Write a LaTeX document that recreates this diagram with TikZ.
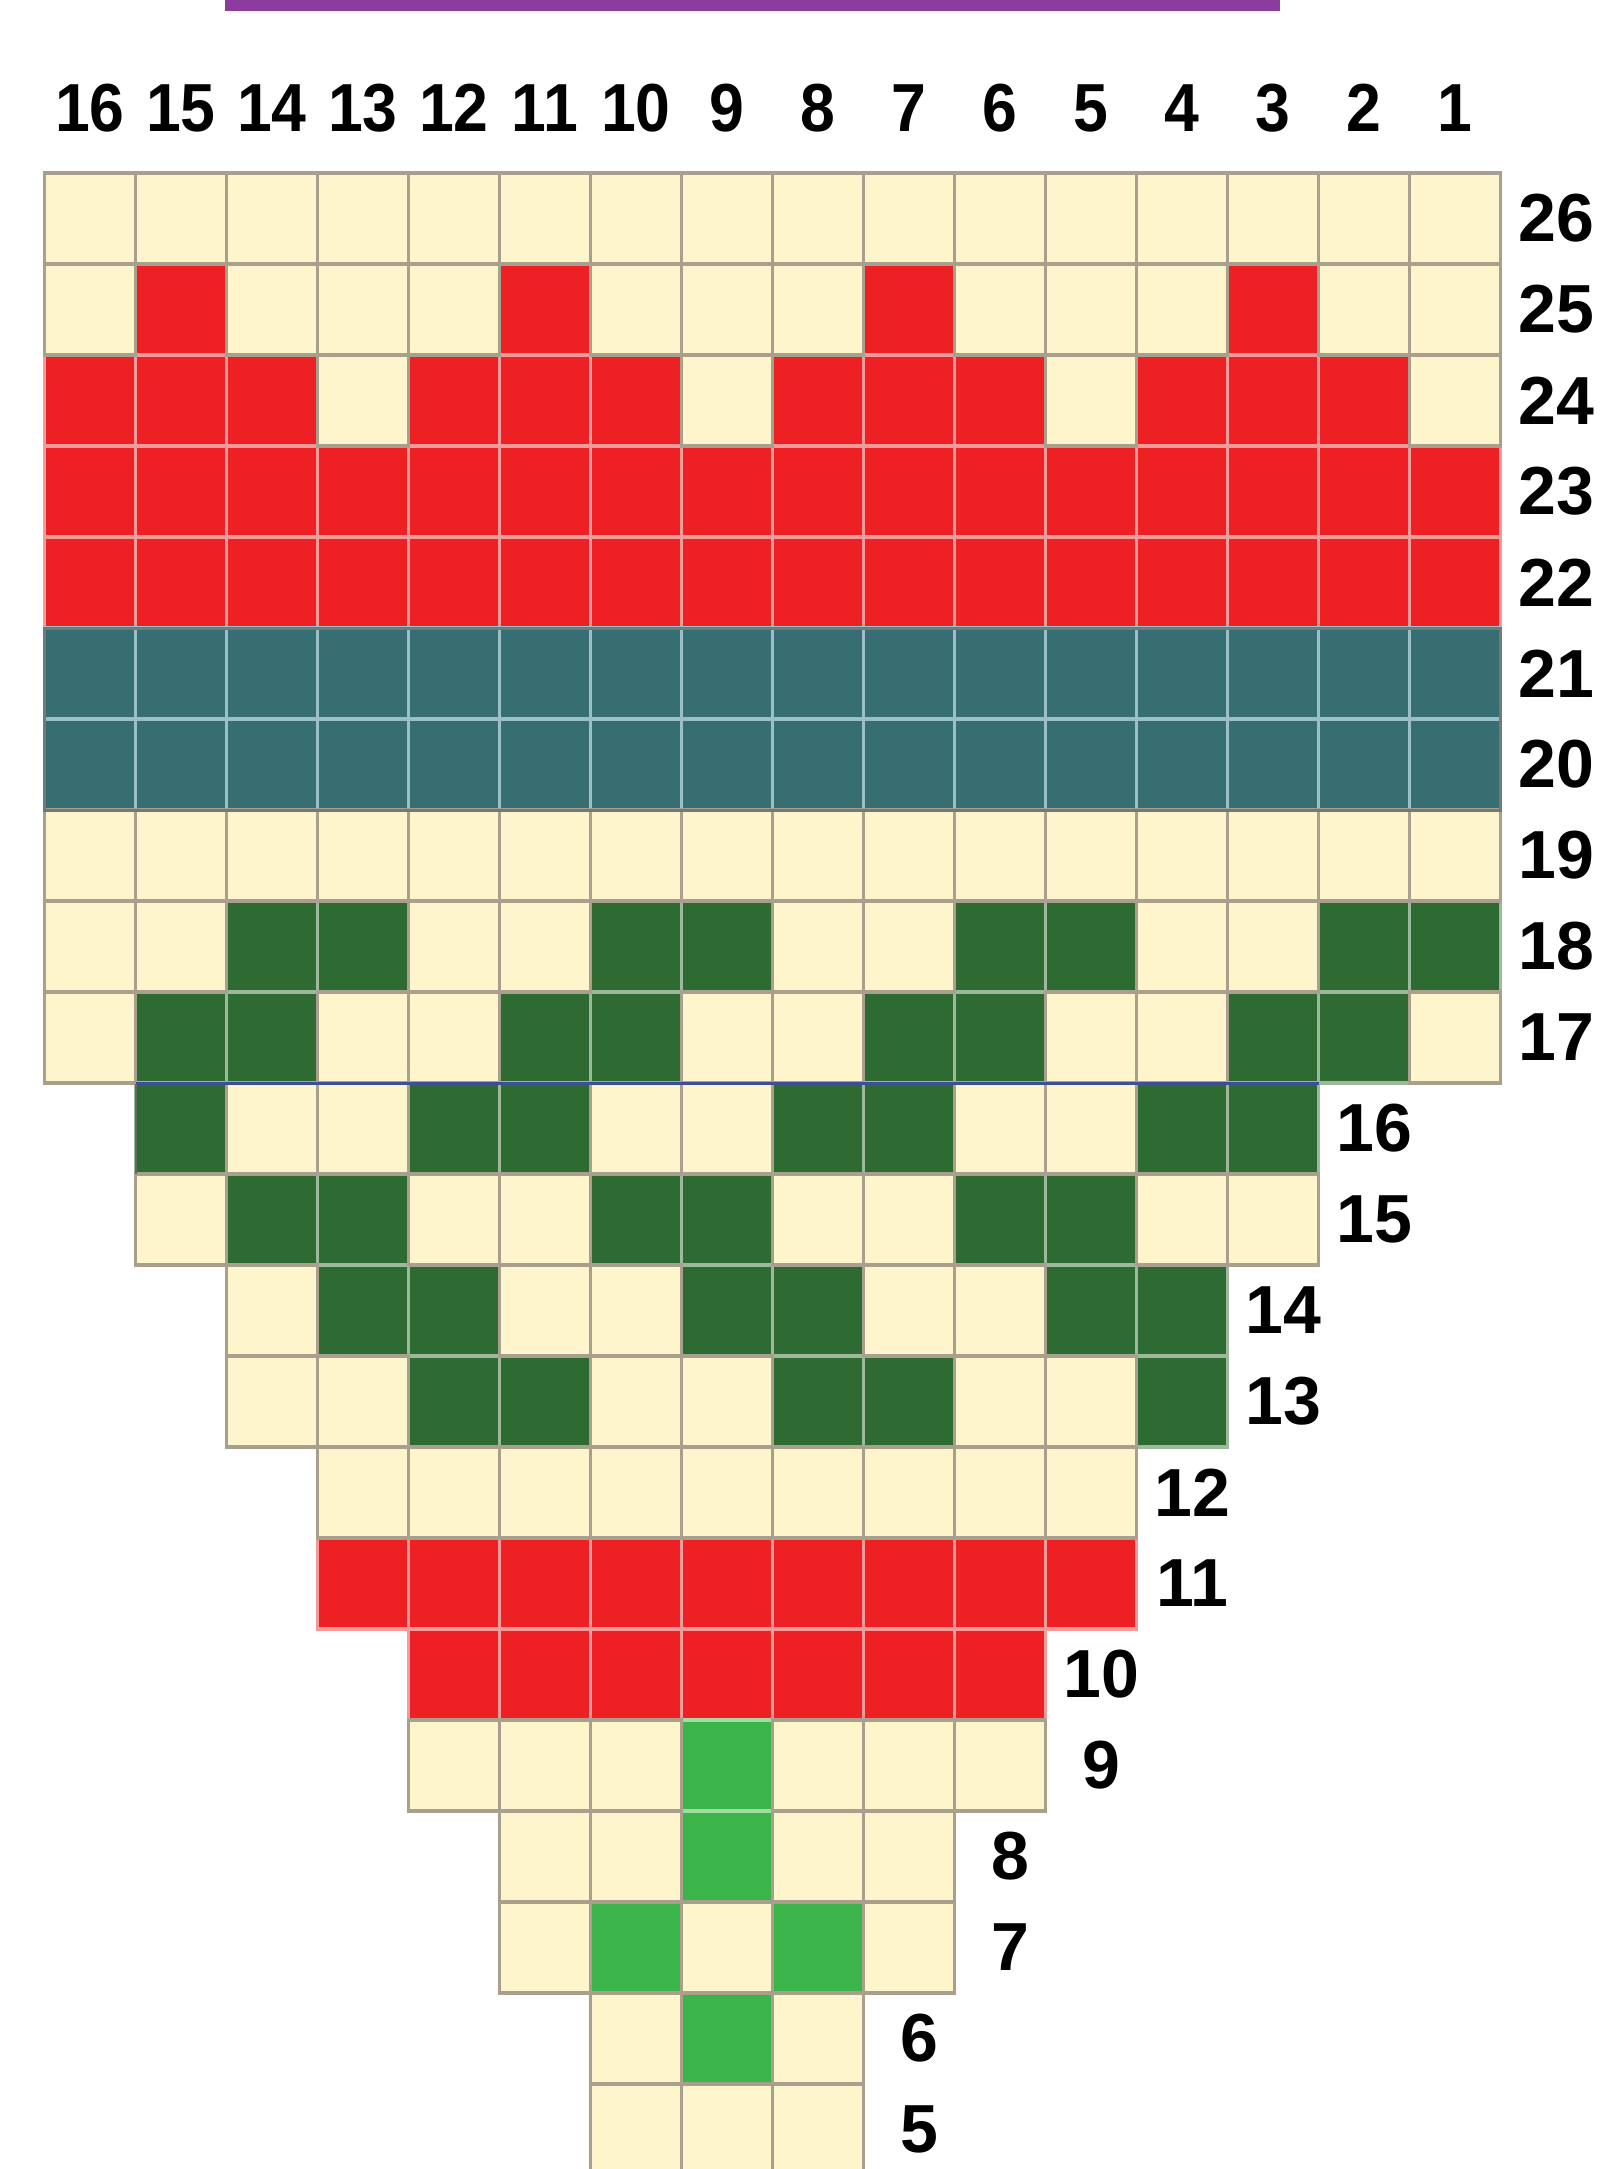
\documentclass[tikz,border=0pt]{standalone}
\usepackage{fontspec}
\setmainfont{Liberation Sans}
\definecolor{colc}{HTML}{FFF5CC}
\definecolor{colr}{HTML}{ED2024}
\definecolor{colt}{HTML}{366E71}
\definecolor{colg}{HTML}{2E6B32}
\definecolor{coll}{HTML}{3BB54A}
\definecolor{linec}{HTML}{A8A08C}
\definecolor{liner}{HTML}{F39A9A}
\definecolor{linet}{HTML}{9ABFC6}
\definecolor{lineg}{HTML}{9DB89A}
\definecolor{linel}{HTML}{A2DCA2}
\definecolor{purplebar}{HTML}{8B3C9E}
\definecolor{tealedge}{HTML}{6E7A7C}
\definecolor{blueline}{HTML}{3D4F9A}
\newcount\knitpass
\def\knone{n}
\def\kcream{c}
\newcommand\knitcell[3]{%
  \edef\kk{#3}%
  \ifx\kk\knone\else
    \pgfmathsetmacro\xl{44.5+(#1-1)*91}%
    \pgfmathsetmacro\yt{173+(26-#2)*91}%
    \ifcase\knitpass
      \fill[fill=col\kk] (\xl,\yt) rectangle ++(91,91);
    \or
      \ifx\kk\kcream\else
        \draw[draw=line\kk, line width=3.5] (\xl,\yt) rectangle ++(91,91);
      \fi
    \or
      \ifx\kk\kcream
        \draw[draw=linec, line width=3.5] (\xl,\yt) rectangle ++(91,91);
      \fi
    \fi
  \fi}
\newcommand\knitrow[2]{\foreach \k [count=\i] in {#2} {\knitcell{\i}{#1}{\k}}}
\newcommand\allrows{%
  \knitrow{26}{c,c,c,c,c,c,c,c,c,c,c,c,c,c,c,c}%
  \knitrow{25}{c,r,c,c,c,r,c,c,c,r,c,c,c,r,c,c}%
  \knitrow{24}{r,r,r,c,r,r,r,c,r,r,r,c,r,r,r,c}%
  \knitrow{23}{r,r,r,r,r,r,r,r,r,r,r,r,r,r,r,r}%
  \knitrow{22}{r,r,r,r,r,r,r,r,r,r,r,r,r,r,r,r}%
  \knitrow{21}{t,t,t,t,t,t,t,t,t,t,t,t,t,t,t,t}%
  \knitrow{20}{t,t,t,t,t,t,t,t,t,t,t,t,t,t,t,t}%
  \knitrow{19}{c,c,c,c,c,c,c,c,c,c,c,c,c,c,c,c}%
  \knitrow{18}{c,c,g,g,c,c,g,g,c,c,g,g,c,c,g,g}%
  \knitrow{17}{c,g,g,c,c,g,g,c,c,g,g,c,c,g,g,c}%
  \knitrow{16}{n,g,c,c,g,g,c,c,g,g,c,c,g,g,n,n}%
  \knitrow{15}{n,c,g,g,c,c,g,g,c,c,g,g,c,c,n,n}%
  \knitrow{14}{n,n,c,g,g,c,c,g,g,c,c,g,g,n,n,n}%
  \knitrow{13}{n,n,c,c,g,g,c,c,g,g,c,c,g,n,n,n}%
  \knitrow{12}{n,n,n,c,c,c,c,c,c,c,c,c,n,n,n,n}%
  \knitrow{11}{n,n,n,r,r,r,r,r,r,r,r,r,n,n,n,n}%
  \knitrow{10}{n,n,n,n,r,r,r,r,r,r,r,n,n,n,n,n}%
  \knitrow{9}{n,n,n,n,c,c,c,l,c,c,c,n,n,n,n,n}%
  \knitrow{8}{n,n,n,n,n,c,c,l,c,c,n,n,n,n,n,n}%
  \knitrow{7}{n,n,n,n,n,c,l,c,l,c,n,n,n,n,n,n}%
  \knitrow{6}{n,n,n,n,n,n,c,l,c,n,n,n,n,n,n,n}%
  \knitrow{5}{n,n,n,n,n,n,c,c,c,n,n,n,n,n,n,n}%
}
\tikzset{lab/.style={font=\bfseries\fontsize{68}{80}\selectfont, inner sep=0pt, text=black},
  toplab/.style={lab, xscale=0.92}}
\begin{document}
\begin{tikzpicture}[x=1pt,y=-1pt]
\useasboundingbox (0,0) rectangle (1602,2169);
\fill[white] (0,0) rectangle (1602,2169);
% purple title bar (cut off)
\fill[purplebar] (225,0) rectangle (1280,11);
% grid
\knitpass=0 \allrows
\knitpass=1 \allrows
\knitpass=2 \allrows
% teal block outline
\draw[tealedge, line width=3] (44.5,628) rectangle (1500.5,810);
% blue line between rows 17 and 16
\coordinate (bl1) at (135.5,1083);
\coordinate (bl2) at (1318.5,1083);
\draw[blueline, line width=3] (bl1) -- (bl2);
\coordinate (dl1) at (135.5,1084);
\coordinate (dl2) at (135.5,1174);
\draw[black!60, line width=2] (dl1) -- (dl2);
% column numbers
\foreach \c [count=\i] in {16,15,14,13,12,11,10,9,8,7,6,5,4,3,2,1}
  \node[toplab] (col\c) at ({44.5+(\i-0.5)*91},108) {\c};
% row numbers
\foreach \r/\xe in {26/1500.5,25/1500.5,24/1500.5,23/1500.5,22/1500.5,21/1500.5,20/1500.5,19/1500.5,18/1500.5,17/1500.5,16/1318.5,15/1318.5,14/1227.5,13/1227.5,12/1136.5,11/1136.5,10/1045.5,9/1045.5,8/954.5,7/954.5,6/863.5,5/863.5}
  \node[lab] (row\r) at ({\xe+56},{173+(26-\r)*91+45.5}) {\r};
\end{tikzpicture}
\end{document}
